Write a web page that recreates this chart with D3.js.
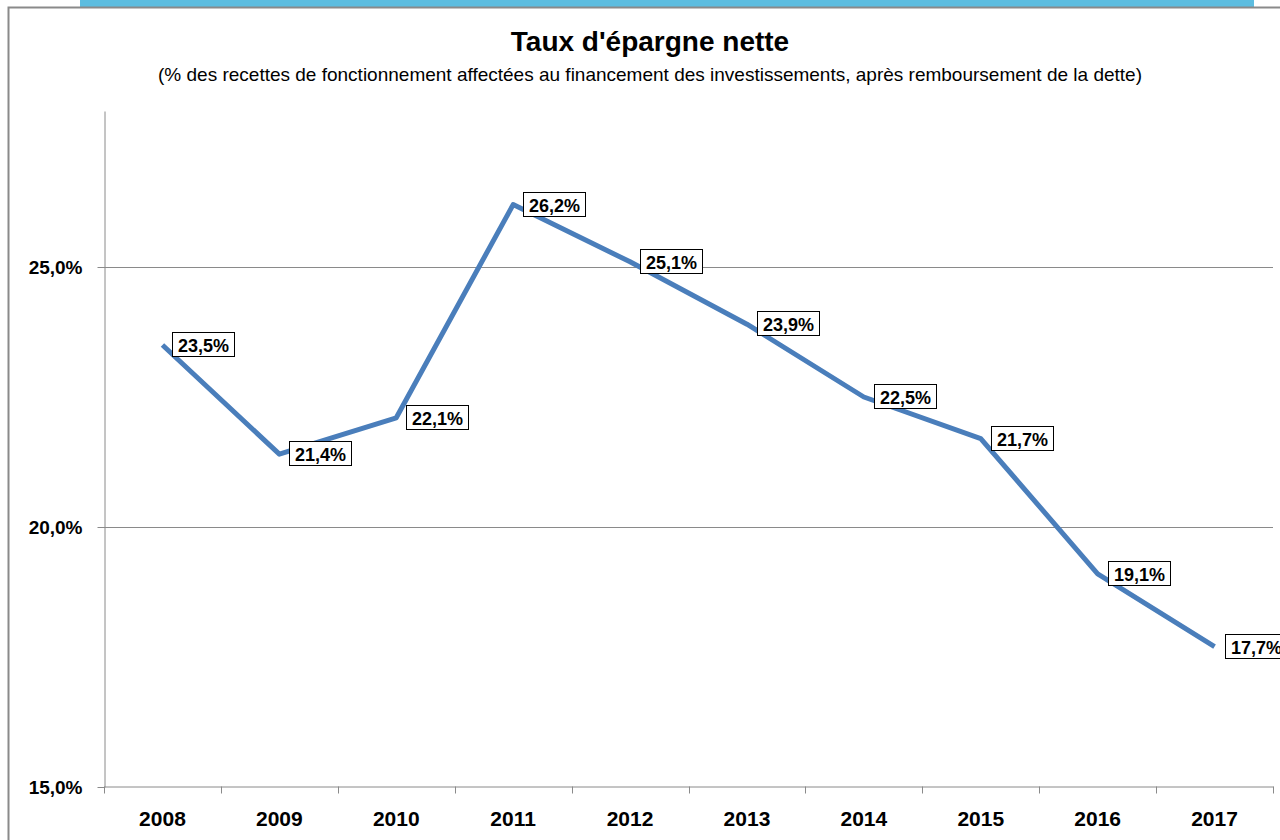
<!DOCTYPE html>
<html>
<head>
<meta charset="utf-8">
<script src="https://cdn.jsdelivr.net/npm/d3@7"></script>
<style>
  html, body { margin: 0; padding: 0; background: #fff; }
  svg { display: block; }
</style>
</head>
<body>
<div id="chart"></div>
<script>
"use strict";

/* ── Data ── */
const years  = ["2008", "2009", "2010", "2011", "2012", "2013", "2014", "2015", "2016", "2017"];
const rates  = [23.5, 21.4, 22.1, 26.2, 25.1, 23.9, 22.5, 21.7, 19.1, 17.7];
const yTicks = [15, 20, 25];

const title    = "Taux d'épargne nette";
const subtitle = "(% des recettes de fonctionnement affectées au financement des investissements, après remboursement de la dette)";

/* ── Dimensions ── */
const W = 1280, H = 840;
const plot = { left: 104, right: 1273, top: 111, bottom: 787 };
const FONT = "'Liberation Sans', Arial, sans-serif";
const fmt = v => v.toFixed(1).replace(".", ",") + "%";

const svg = d3.select("#chart").append("svg")
  .attr("width", W).attr("height", H);

/* ── Frame ── */
svg.append("rect")
  .attr("x", 80).attr("y", 0).attr("width", 1174).attr("height", 7)
  .attr("fill", "#5dbde0");
svg.append("path")
  .attr("d", `M8.5,${H} V7.5 H${W}`)
  .attr("fill", "none").attr("stroke", "#8a8a8a").attr("stroke-width", 2);

/* ── Titles ── */
svg.append("text")
  .attr("x", 650).attr("y", 51)
  .attr("text-anchor", "middle")
  .attr("font-family", FONT).attr("font-weight", "700").attr("font-size", "28px")
  .attr("fill", "#000")
  .text(title);

svg.append("text")
  .attr("x", 650).attr("y", 81)
  .attr("text-anchor", "middle")
  .attr("font-family", FONT).attr("font-size", "19px")
  .attr("fill", "#000")
  .text(subtitle);

/* ── Scales ── */
const x = d3.scaleBand().domain(years).range([plot.left, plot.right]);
const y = d3.scaleLinear().domain([15, 28]).range([plot.bottom, plot.top]);

/* ── Gridlines ── */
svg.append("g")
  .selectAll("line")
  .data(yTicks.slice(1))
  .join("line")
  .attr("x1", plot.left).attr("x2", plot.right)
  .attr("y1", d => Math.round(y(d)) + 0.5).attr("y2", d => Math.round(y(d)) + 0.5)
  .attr("stroke", "#8a8a8a").attr("stroke-width", 1);

/* ── Axes ── */
const yAxis = svg.append("g")
  .attr("transform", `translate(${plot.left + 0.5},0)`)
  .call(d3.axisLeft(y).tickValues(yTicks).tickSizeInner(7).tickSizeOuter(0)
    .tickPadding(15).tickFormat(fmt));

const xAxis = svg.append("g")
  .attr("transform", `translate(0,${plot.bottom - 0.5})`)
  .call(d3.axisBottom(x).tickSize(0).tickPadding(25));

// category boundary ticks
xAxis.append("g")
  .selectAll("line")
  .data(d3.range(years.length + 1))
  .join("line")
  .attr("x1", i => Math.round(plot.left + i * x.step()) + 0.5)
  .attr("x2", i => Math.round(plot.left + i * x.step()) + 0.5)
  .attr("y1", 0).attr("y2", 7)
  .attr("stroke", "#8a8a8a");

[yAxis, xAxis].forEach(g => {
  g.select(".domain").attr("stroke", "#8a8a8a");
  g.selectAll(".tick line").attr("stroke", "#8a8a8a");
  g.selectAll("text")
    .attr("font-family", FONT).attr("font-weight", "700").attr("fill", "#000");
});
yAxis.selectAll("text").attr("font-size", "19px");
xAxis.selectAll("text").attr("font-size", "21px");

/* ── Line ── */
const cx = d => x(d) + x.bandwidth() / 2;

svg.append("path")
  .datum(rates)
  .attr("fill", "none")
  .attr("stroke", "#4a7ebb")
  .attr("stroke-width", 5)
  .attr("stroke-linejoin", "round")
  .attr("d", d3.line().x((d, i) => cx(years[i])).y(d => y(d)));

/* ── Data labels ── */
const labels = svg.append("g")
  .selectAll("g")
  .data(rates)
  .join("g")
  .attr("transform", (d, i) => `translate(${Math.round(cx(years[i])) + 10},${Math.round(y(d))})`);

labels.append("rect")
  .attr("x", 0.5).attr("y", -12.5)
  .attr("width", 62).attr("height", 24)
  .attr("fill", "#fff").attr("stroke", "#000").attr("stroke-width", 1);

labels.append("text")
  .attr("x", 31.5).attr("y", 6.5)
  .attr("text-anchor", "middle")
  .attr("font-family", FONT).attr("font-weight", "700").attr("font-size", "18px")
  .attr("fill", "#000")
  .text(fmt);
</script>
</body>
</html>
